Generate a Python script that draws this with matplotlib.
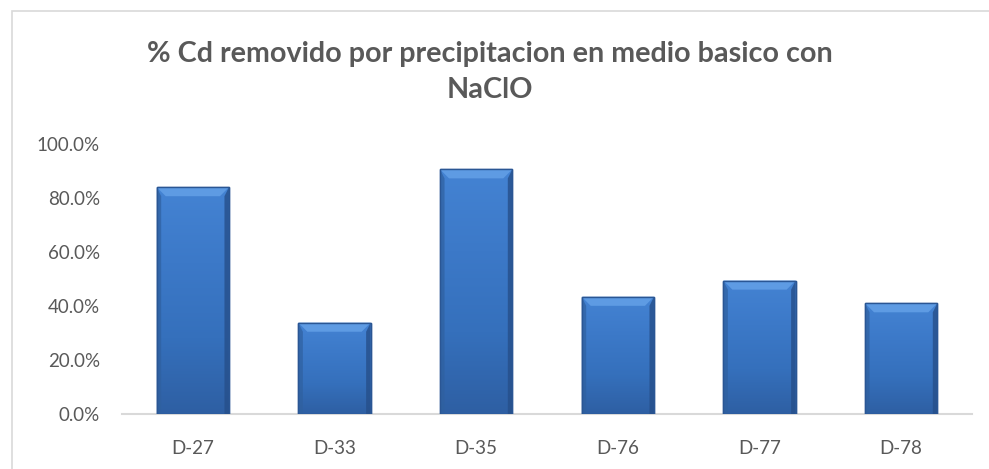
import numpy as np
import matplotlib
matplotlib.use("Agg")
import matplotlib.pyplot as plt
from matplotlib.patches import Rectangle, Polygon
from matplotlib.ticker import FuncFormatter
from matplotlib.colors import LinearSegmentedColormap

# Data
samples = ["D-27", "D-33", "D-35", "D-76", "D-77", "D-78"]
cd_removed = [0.84, 0.338, 0.906, 0.434, 0.494, 0.41]
y_ticks = [0.0, 0.2, 0.4, 0.6, 0.8, 1.0]
title = "% Cd removido por precipitacion en medio basico con\nNaClO"

TEXT = "#595959"
FONT = ["Lato", "DejaVu Sans"]

W, H = 989, 469
fig = plt.figure(figsize=(W / 100, H / 100), dpi=100)
fig.patch.set_facecolor("white")

# chart-area frame (runs off the right and bottom edges)
fig.add_artist(Rectangle((11.5 / W, -0.2), 1.2, 1.2 - 11.5 / H,
                         transform=fig.transFigure, fill=False,
                         edgecolor="#D9D9D9", linewidth=1.2))

ax = fig.add_axes([122 / W, 1 - 414 / H, 850 / W, 270 / H])
ax.set_xlim(-0.5, len(samples) - 0.5)
ax.set_ylim(0, 1.0)

bars = ax.bar(range(len(samples)), cd_removed, width=0.51,
              color="#3B74C2", edgecolor="#2A5694", linewidth=1.0, zorder=3)

# gradient fill and bevelled top for each bar
body = LinearSegmentedColormap.from_list(
    "body", ["#2E5FA3", "#3570BC", "#3C79C8", "#4483D3"])
grad = np.linspace(0, 1, 256).reshape(-1, 1)
to_px = ax.transData
inv = to_px.inverted()
for b in bars:
    x0, w, h = b.get_x(), b.get_width(), b.get_height()
    im = ax.imshow(grad, cmap=body, aspect="auto",
                   extent=(x0, x0 + w, 0, h), origin="lower", zorder=3.1)
    im.set_clip_path(b)
    # bevel size in data units from ~8 px
    px0, py0 = to_px.transform((x0, h))
    bx = inv.transform((px0 + 9, py0))[0] - x0
    by = h - inv.transform((px0, py0 - 9))[1]
    ax.add_patch(Polygon([(x0, h), (x0 + w, h), (x0 + w - bx, h - by),
                          (x0 + bx, h - by)], closed=True,
                         facecolor="#5E9BE3", edgecolor="none", zorder=3.2))
    ax.add_patch(Polygon([(x0, h), (x0 + bx * 0.5, h - by),
                          (x0 + bx * 0.5, 0), (x0, 0)], closed=True,
                         facecolor="#2F609F", edgecolor="none",
                         alpha=0.7, zorder=3.2))
    ax.add_patch(Polygon([(x0 + w, h), (x0 + w - bx * 0.5, h - by),
                          (x0 + w - bx * 0.5, 0), (x0 + w, 0)], closed=True,
                         facecolor="#264F8A", edgecolor="none",
                         alpha=0.8, zorder=3.2))
    ax.add_patch(Rectangle((x0, 0), w, h, fill=False, edgecolor="#2A5694",
                           linewidth=1.0, zorder=3.3))

ax.set_xticks(range(len(samples)))
ax.set_xticklabels(samples)
ax.set_yticks(y_ticks)
ax.yaxis.set_major_formatter(FuncFormatter(lambda v, _: f"{v * 100:.1f}%"))

for s in ["top", "right", "left"]:
    ax.spines[s].set_visible(False)
ax.spines["bottom"].set_color("#D9D9D9")
ax.spines["bottom"].set_linewidth(1.5)
ax.spines["bottom"].set_zorder(2)
ax.tick_params(axis="both", length=0, colors=TEXT, labelsize=13.5)
ax.tick_params(axis="y", pad=16)
ax.tick_params(axis="x", pad=19)
for lab in ax.get_xticklabels() + ax.get_yticklabels():
    lab.set_fontfamily(FONT)

fig.text(490 / W, 1 - 72 / H, title, ha="center", va="center",
         fontsize=20.7, fontweight="bold", color=TEXT, family=FONT,
         linespacing=1.45)

fig.savefig("out.png", dpi=100)
